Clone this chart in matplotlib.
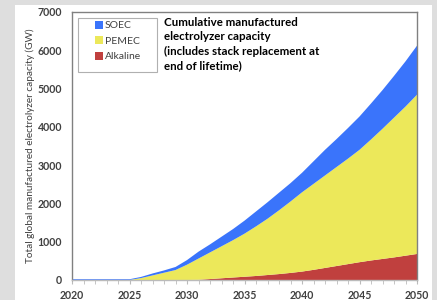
import matplotlib
matplotlib.use("Agg")
import matplotlib.pyplot as plt
from matplotlib.patches import Rectangle

years = list(range(2020, 2051))
alkaline = [0, 0, 0, 0, 0, 0, 0, 0, 0, 0, 0,
            5, 25, 45, 65, 85, 105, 130, 155, 185, 220,
            265, 315, 365, 415, 465, 510, 550, 590, 635, 680]
pemec_top = [0, 0, 0, 0, 0, 0, 50, 120, 190, 260, 400,
             560, 720, 880, 1040, 1210, 1400, 1600, 1820, 2050, 2290,
             2510, 2730, 2950, 3170, 3400, 3670, 3950, 4240, 4530, 4840]
total = [20, 20, 20, 20, 20, 20, 80, 170, 250, 340, 520,
         740, 930, 1130, 1330, 1550, 1790, 2030, 2280, 2530, 2800,
         3100, 3400, 3680, 3970, 4270, 4610, 4960, 5330, 5710, 6120]
pemec = [p - a for p, a in zip(pemec_top, alkaline)]
soec = [t - p for t, p in zip(total, pemec_top)]

series = ["Alkaline", "PEMEC", "SOEC"]
legend_order = ["SOEC", "PEMEC", "Alkaline"]
colors = {"SOEC": "#3a74fb", "PEMEC": "#ece85a", "Alkaline": "#c0403e"}
title = "Cumulative manufactured\nelectrolyzer capacity\n(includes stack replacement at\nend of lifetime)"
ylabel = "Total global manufactured electrolyzer capacity (GW)"

plt.rcParams["font.family"] = ["Lato", "DejaVu Sans"]

fig = plt.figure(figsize=(4.37, 3.0), dpi=100)
fig.patch.set_facecolor("#dedede")
fig.patches.append(Rectangle((15 / 437, 0), 417 / 437, 295 / 300,
                             transform=fig.transFigure, facecolor="white",
                             edgecolor="none", zorder=-10))

ax = fig.add_axes([72 / 437, 20 / 300, 345 / 437, 268 / 300])
ax.set_facecolor("white")
ax.stackplot(years, alkaline, pemec, soec,
             colors=[colors[s] for s in series], linewidth=0)

ax.set_xlim(2020, 2050)
ax.set_ylim(0, 7000)
ax.set_xticks(range(2020, 2051, 5))
ax.set_xticks(years, minor=True)
ax.set_yticks(range(0, 7001, 1000))
ax.tick_params(axis="both", labelsize=7.6, colors="#404040", length=0)
ax.tick_params(axis="y", pad=7)
ax.tick_params(axis="x", which="both", length=3, color="#bbbbbb",
               direction="out", pad=4)
for lab in ax.get_xticklabels() + ax.get_yticklabels():
    lab.set_fontweight("bold")
for s in ax.spines.values():
    s.set_color("#808080")
    s.set_linewidth(1)
ax.spines["bottom"].set_color("#bbbbbb")

ax.set_ylabel(ylabel, fontsize=7.2, color="#404040", labelpad=2)

# legend: frame drawn separately, Excel-like left padding
ax.add_patch(Rectangle((0.0174, 0.776), 0.229, 0.2015, transform=ax.transAxes,
                       facecolor="white", edgecolor="#b0b0b0", lw=0.8, zorder=5))
handles = [Rectangle((0, 0), 1, 1, facecolor=colors[s], edgecolor="none")
           for s in legend_order]
leg = ax.legend(handles, legend_order, loc="upper left",
                bbox_to_anchor=(0.066, 0.968), fontsize=7.5, frameon=False,
                handlelength=0.8, handleheight=0.8, handletextpad=0.15,
                borderpad=0, labelspacing=0.58, borderaxespad=0)
leg.set_zorder(6)
for t in leg.get_texts():
    t.set_color("#404040")

ax.text(0.267, 0.982, title, transform=ax.transAxes, fontsize=8.3,
        fontweight="bold", va="top", ha="left", linespacing=1.38)

fig.savefig("out.png", dpi=100, facecolor=fig.get_facecolor())
